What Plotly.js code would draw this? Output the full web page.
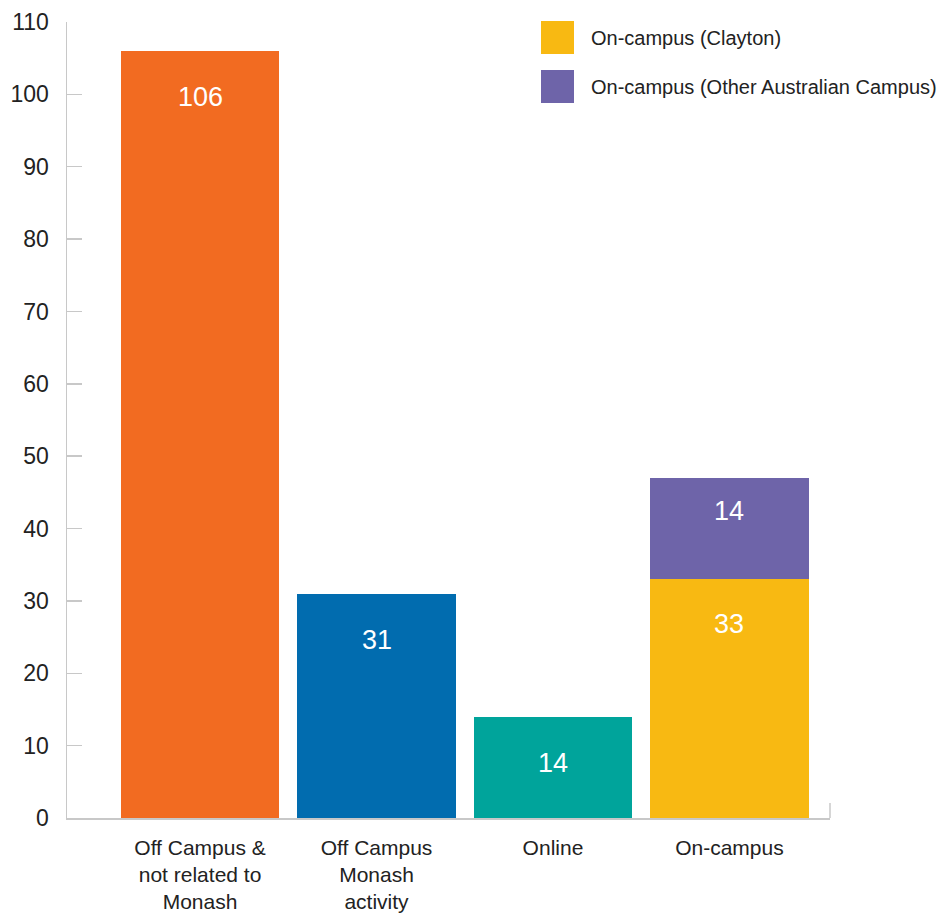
<!DOCTYPE html>
<html>
<head>
<meta charset="utf-8">
<script src="https://cdn.plot.ly/plotly-3.0.1.min.js"></script>
<style>html,body{margin:0;padding:0;background:#fff;}#chart{width:943px;height:913px;}</style>
</head>
<body>
<div id="chart"></div>
<script>
const categories = ["Off Campus &<br>not related to<br>Monash", "Off Campus<br>Monash<br>activity", "Online", "On-campus"];
const singleCategories = ["Off Campus &<br>not related to<br>Monash", "Off Campus<br>Monash<br>activity", "Online"];
const singleValues = [106, 31, 14];
const singleColors = ["#F26B21", "#016CAF", "#00A49B"];
const stackCategory = ["On-campus"];
const claytonName = "On-campus (Clayton)";
const claytonValues = [33];
const otherName = "On-campus (Other Australian Campus)";
const otherValues = [14];
const yTicks = [0, 10, 20, 30, 40, 50, 60, 70, 80, 90, 100, 110];

const FONT = "Liberation Sans, Arial, Helvetica, sans-serif";

const traces = [
  {type: "bar", x: singleCategories, y: singleValues, marker: {color: singleColors}, showlegend: false, hoverinfo: "x+y"},
  {type: "bar", x: stackCategory, y: claytonValues, name: claytonName, marker: {color: "#F8B912"}, showlegend: false},
  {type: "bar", x: stackCategory, y: otherValues, name: otherName, marker: {color: "#6E64A9"}, showlegend: false}
];

const annotations = [];
singleCategories.forEach((c, i) => {
  annotations.push({x: c, y: singleValues[i], xref: "x", yref: "y", text: String(singleValues[i]), showarrow: false,
    yanchor: "middle", yshift: -46, font: {family: FONT, size: 27, color: "#fff"}});
});
annotations.push({x: stackCategory[0], y: claytonValues[0], xref: "x", yref: "y", text: String(claytonValues[0]), showarrow: false,
  yanchor: "middle", yshift: -45, font: {family: FONT, size: 27, color: "#fff"}});
annotations.push({x: stackCategory[0], y: claytonValues[0] + otherValues[0], xref: "x", yref: "y", text: String(otherValues[0]), showarrow: false,
  yanchor: "middle", yshift: -33, font: {family: FONT, size: 27, color: "#fff"}});

// custom legend
const legendItems = [[claytonName, "#F8B912"], [otherName, "#6E64A9"]];
const shapes = [];
legendItems.forEach((it, i) => {
  const top = 21 + i * 49;
  shapes.push({type: "rect", xref: "paper", yref: "paper", xsizemode: "pixel", ysizemode: "pixel",
    xanchor: 1, yanchor: 1, x0: 541 - 830, x1: 574 - 830, y0: -(top - 22), y1: -(top + 33 - 22),
    fillcolor: it[1], line: {width: 0}});
  annotations.push({xref: "paper", yref: "paper", x: 1, y: 1, xshift: 589 - 830, yshift: -(top + 16.5 - 22),
    xanchor: "left", yanchor: "middle", text: it[0], showarrow: false, font: {family: FONT, size: 20, color: "#222"}});
});
// right end cap of x-axis
shapes.push({type: "line", xref: "paper", yref: "paper", ysizemode: "pixel", yanchor: 0, x0: 1, x1: 1, y0: 0, y1: 15,
  line: {color: "#c8c8c8", width: 1.5}});

const layout = {
  width: 943, height: 913,
  margin: {l: 67, r: 113, t: 22, b: 95},
  paper_bgcolor: "#fff", plot_bgcolor: "#fff",
  barmode: "stack", bargap: 0.1,
  font: {family: FONT, color: "#222"},
  showlegend: false,
  xaxis: {range: [-0.754, 3.57], showgrid: false, zeroline: false, showline: true, linecolor: "#c8c8c8", linewidth: 1.5,
    ticks: "", ticklabelstandoff: 10, tickfont: {family: FONT, size: 21, color: "#222"}, fixedrange: true},
  yaxis: {range: [0, 110], tickvals: yTicks, showgrid: false, zeroline: false, showline: true, linecolor: "#c8c8c8", linewidth: 1.5,
    ticks: "inside", ticklen: 15, tickcolor: "#c8c8c8", tickwidth: 1.5, ticklabelstandoff: 12,
    tickfont: {family: FONT, size: 23, color: "#222"}},
  annotations: annotations,
  shapes: shapes
};

Plotly.newPlot("chart", traces, layout, {displayModeBar: false, staticPlot: true});
</script>
</body>
</html>
